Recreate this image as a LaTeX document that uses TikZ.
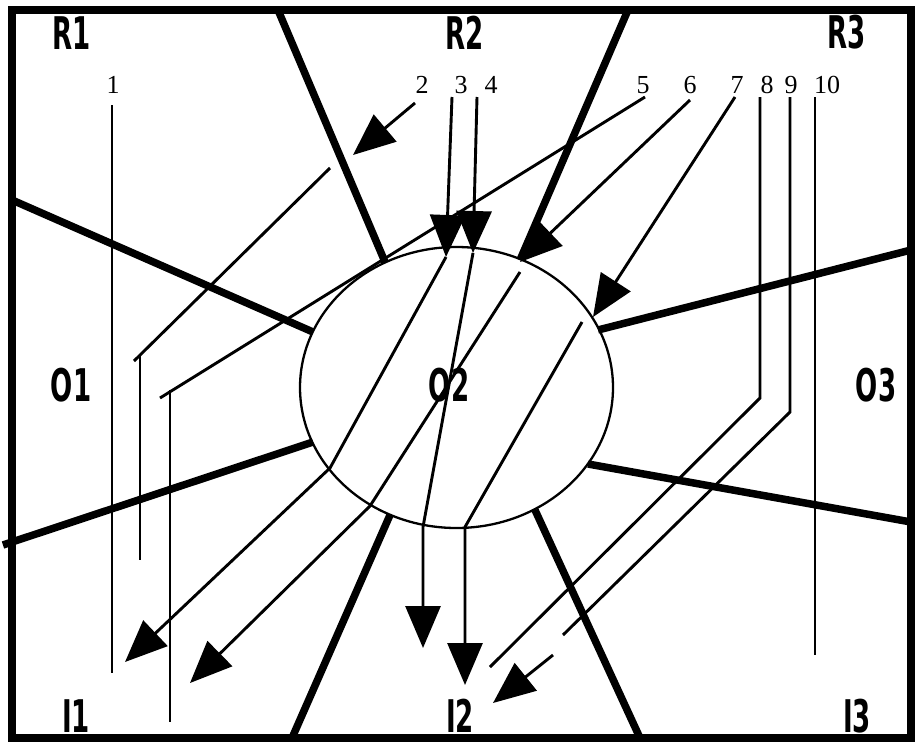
\documentclass[tikz,border=0pt]{standalone}
\usepackage{fontspec}
\usepackage{graphicx}
\setmainfont{Liberation Serif}
\newfontfamily\regionfont{DejaVu Sans}
\usetikzlibrary{arrows.meta}

\newcommand{\slim}[1]{\scalebox{0.58}[1]{#1}}

\begin{document}
\begin{tikzpicture}[x=1pt, y=-1pt, >={Triangle[length=42pt,width=35pt]},
    wall/.style={line width=7.5pt},
    wire/.style={line width=2.9pt},
    region/.style={inner sep=0pt, font=\regionfont\bfseries\fontsize{45}{45}\selectfont},
    num/.style={inner sep=0pt, anchor=base, font=\fontsize{26}{26}\selectfont}]
    \useasboundingbox (0,0) rectangle (915,747);

    % Outer frame
    \draw[wall] (12,10) rectangle (911,738);

    % Central region, drawn as an ellipse
    \coordinate (c) at (456.5,387.5);
    \draw[line width=2.3pt] (c) ellipse [x radius=156.5, y radius=140.5];

    % Borders between the regions, ending on the ellipse
    \coordinate (b1) at (385,262);
    \coordinate (b2) at (313,332);
    \coordinate (b3) at (313,442);
    \coordinate (b4) at (390,515);
    \coordinate (b5) at (535,510);
    \coordinate (b6) at (588,464);
    \coordinate (b7) at (598,330);
    \coordinate (b8) at (520,260);
    \draw[wall] (278,10) -- (b1);
    \draw[wall] (12,200) -- (b2);
    \draw[wall] (3,545) -- (b3);
    \draw[wall] (292,738) -- (b4);
    \draw[wall] (640,738) -- (b5);
    \draw[wall] (911,522) -- (b6);
    \draw[wall] (911,250) -- (b7);
    \draw[wall] (628,10) -- (b8);

    % Region names
    \node[region] (R1) at (72,33) {\slim{R1}};
    \node[region] (R2) at (465,33) {\slim{R2}};
    \node[region] (R3) at (847,32) {\slim{R3}};
    \node[region] (O1) at (71,385) {\slim{O1}};
    \node[region] (O2) at (449,385) {\slim{O2}};
    \node[region] (O3) at (876,385) {\slim{O3}};
    \node[region] (I1) at (76,716) {\slim{I1}};
    \node[region] (I2) at (460,716) {\slim{I2}};
    \node[region] (I3) at (857,716) {\slim{I3}};

    % Line numbers
    \node[num] (n1) at (113,93) {1};
    \node[num] (n2) at (422,93) {2};
    \node[num] (n3) at (461,93) {3};
    \node[num] (n4) at (491,93) {4};
    \node[num] (n5) at (643,93) {5};
    \node[num] (n6) at (690,93) {6};
    \node[num] (n7) at (737,93) {7};
    \node[num] (n8) at (767,93) {8};
    \node[num] (n9) at (791,93) {9};
    \node[num] (n10) at (827,93) {10};

    % Line 1
    \draw[wire] (112,105) -- (112,673);

    % Line 2
    \draw[wire, ->] (415,103) -- (353,155);
    \draw[wire] (330,168) -- (134,361);
    \draw[wire] (140,355) -- (140,560);

    % Line 3
    \coordinate (e3) at (446,257);
    \draw[wire, ->] (452,97) -- (e3);
    \draw[wire, ->] (e3) -- (330,468) -- (125,662);

    % Line 4
    \coordinate (e4) at (473,253);
    \draw[wire, ->] (477,97) -- (e4);
    \draw[wire, ->] (e4) -- (423,527) -- (423,648);

    % Line 5
    \draw[wire] (645,97) -- (160,398);
    \draw[wire] (170,390) -- (170,722);

    % Line 6
    \coordinate (e6) at (520,262);
    \draw[wire, ->] (690,100) -- (e6);
    \draw[wire, ->] (520,272) -- (370,506) -- (190,683);

    % Line 7
    \coordinate (e7) at (593,317);
    \draw[wire, ->] (735,97) -- (e7);
    \draw[wire, ->] (582,322) -- (465,527) -- (465,685);

    % Line 8
    \draw[wire] (760,97) -- (760,398) -- (490,667);

    % Line 9
    \draw[wire] (790,97) -- (790,412) -- (563,635);
    \draw[wire, ->] (553,655) -- (493,703);

    % Line 10
    \draw[wire] (815,97) -- (815,655);
\end{tikzpicture}
\end{document}
